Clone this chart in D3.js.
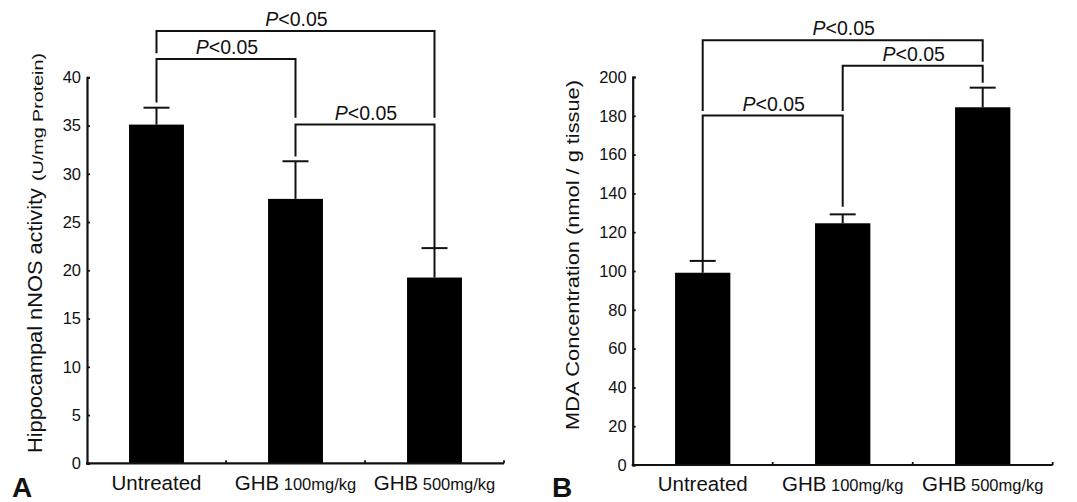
<!DOCTYPE html>
<html><head><meta charset="utf-8">
<script src="https://cdn.jsdelivr.net/npm/d3@7"></script>
<style>
body{margin:0;background:#fff}
svg{display:block}
text{font-family:"Liberation Sans",Arial,Helvetica,sans-serif;fill:#111}
</style>
</head><body>
<svg id="chart" width="1077" height="502"></svg>
<script>
// ---- data ----
const groups = ["Untreated", "GHB", "GHB"];
const doses = ["", "100mg/kg", "500mg/kg"];
const nnosMean = [35.1, 27.4, 19.25];
const nnosErr = [1.75, 3.9, 3.05];
const mdaMean = [99.1, 124.6, 184.4];
const mdaErr = [6.1, 4.6, 10.1];
const nnosTicks = [0, 5, 10, 15, 20, 25, 30, 35, 40];
const mdaTicks = [0, 20, 40, 60, 80, 100, 120, 140, 160, 180, 200];
// significance brackets: group a -> group b, bar level, leg ends (data units)
const nnosBrackets = [
  {a: 0, b: 2, level: 44.8, endA: 42.5, endB: 35.8},
  {a: 0, b: 1, level: 41.9, endA: 37.4, endB: 35.8},
  {a: 1, b: 2, level: 35.1, endA: 31.8, endB: 22.3}
];
const mdaBrackets = [
  {a: 0, b: 2, level: 218.9, endA: 182.5, endB: 207.9},
  {a: 1, b: 2, level: 205.8, endA: 182.5, endB: 197.1},
  {a: 0, b: 1, level: 180.1, endA: 105.2, endB: 133.1}
];
const pText = "<0.05";

const svg = d3.select("#chart");

function drawPanel(cfg) {
  const g = svg.append("g");
  const x = d3.scaleBand().domain(d3.range(groups.length)).range([cfg.x0, cfg.x1]).padding(0);
  const y = d3.scaleLinear().domain([0, d3.max(cfg.ticks)]).range([cfg.yBot, cfg.yTop]);
  const bw = x.bandwidth() * 0.395;
  const cx = i => x(i) + x.bandwidth() / 2;

  // bars
  g.selectAll("rect.bar").data(cfg.mean).join("rect")
    .attr("x", (d, i) => cx(i) - bw / 2)
    .attr("y", d => y(d))
    .attr("width", bw)
    .attr("height", d => y(0) - y(d))
    .attr("fill", "#000");

  // error bars
  const capW = 13;
  cfg.mean.forEach((m, i) => {
    const top = y(m + cfg.err[i]);
    g.append("line").attr("x1", cx(i)).attr("x2", cx(i)).attr("y1", y(m)).attr("y2", top)
      .attr("stroke", "#111").attr("stroke-width", 2);
    g.append("line").attr("x1", cx(i) - capW).attr("x2", cx(i) + capW).attr("y1", top).attr("y2", top)
      .attr("stroke", "#111").attr("stroke-width", 2);
  });

  // y axis
  const ya = g.append("g").attr("transform", `translate(${cfg.x0},0)`)
    .call(d3.axisLeft(y).tickValues(cfg.ticks).tickSizeInner(-3).tickSizeOuter(-3).tickPadding(6));
  ya.select(".domain").attr("stroke", "#111").attr("stroke-width", 2.2);
  ya.selectAll(".tick line").attr("stroke", "#111").attr("stroke-width", 1.8);
  ya.selectAll(".tick text").attr("font-size", 16.5).attr("fill", "#111")
    .style("font-family", '"Liberation Sans",Arial,sans-serif');

  // x axis line with ticks at band boundaries
  g.append("line").attr("x1", cfg.x0 - 1).attr("x2", cfg.x1).attr("y1", y(0)).attr("y2", y(0))
    .attr("stroke", "#111").attr("stroke-width", 2.2);
  const bounds = d3.range(1, groups.length).map(i => x(i)).concat([cfg.x1]);
  g.selectAll("line.xt").data(bounds).join("line")
    .attr("x1", d => d).attr("x2", d => d).attr("y1", y(0)).attr("y2", y(0) - 3)
    .attr("stroke", "#111").attr("stroke-width", 1.8);

  // category labels
  groups.forEach((grp, i) => {
    const t = g.append("text").attr("x", cx(i)).attr("y", cfg.catY)
      .attr("text-anchor", "middle");
    t.append("tspan").attr("font-size", 20.5).text(grp);
    if (doses[i]) t.append("tspan").attr("font-size", 16.5).text(" " + doses[i]);
  });

  // brackets
  cfg.brackets.forEach(b => {
    const xa = cx(b.a), xb = cx(b.b), yl = y(b.level);
    g.append("path")
      .attr("d", `M${xa},${y(b.endA)}V${yl}H${xb}V${y(b.endB)}`)
      .attr("fill", "none").attr("stroke", "#111").attr("stroke-width", 2);
    const t = g.append("text").attr("x", (xa + xb) / 2 + 1).attr("y", yl - 5)
      .attr("text-anchor", "middle").attr("font-size", 19.5);
    t.append("tspan").attr("font-style", "italic").text("P");
    t.append("tspan").text(pText);
  });

  // y label
  cfg.ylabel(g);

  // panel letter
  g.append("text").attr("x", cfg.letterX).attr("y", 497)
    .attr("font-size", 28).attr("font-weight", "bold").attr("fill", "#000").text(cfg.letter);
}

drawPanel({
  x0: 87, x1: 504, yTop: 77.3, yBot: 463.3,
  ticks: nnosTicks, mean: nnosMean, err: nnosErr, brackets: nnosBrackets,
  catY: 490, letter: "A", letterX: 12,
  ylabel: g => {
    g.append("text").attr("transform", "translate(42,453) rotate(-90)")
      .attr("font-size", 21).attr("textLength", 265).attr("lengthAdjust", "spacingAndGlyphs")
      .text("Hippocampal nNOS activity");
    g.append("text").attr("transform", "translate(43,181) rotate(-90)")
      .attr("font-size", 15.5).attr("textLength", 128).attr("lengthAdjust", "spacingAndGlyphs")
      .text("(U/mg Protein)");
  }
});

drawPanel({
  x0: 632.7, x1: 1052.7, yTop: 77, yBot: 465,
  ticks: mdaTicks, mean: mdaMean, err: mdaErr, brackets: mdaBrackets,
  catY: 491, letter: "B", letterX: 552,
  ylabel: g => {
    g.append("text").attr("transform", "translate(579,430) rotate(-90)")
      .attr("font-size", 19).attr("textLength", 350).attr("lengthAdjust", "spacingAndGlyphs")
      .text("MDA Concentration (nmol / g tissue)");
  }
});
</script>
</body></html>
